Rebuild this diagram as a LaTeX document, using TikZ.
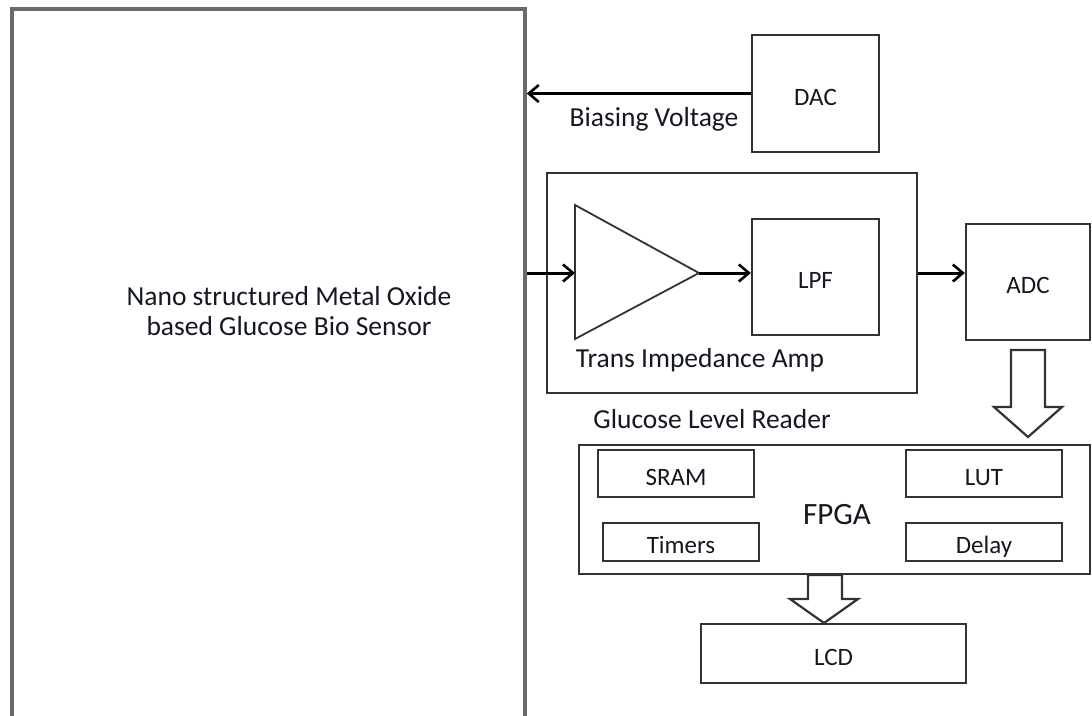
\documentclass[tikz,border=0pt]{standalone}
\usepackage{fontspec}
\setmainfont{Carlito}
\usetikzlibrary{arrows.meta,calc}
\definecolor{boxline}{HTML}{333333}
\definecolor{bigline}{HTML}{6A6A6A}
\definecolor{txt}{HTML}{141820}
\begin{document}
\begin{tikzpicture}[x=1pt,y=-1pt,
  blk/.style={draw=boxline,line width=2.3pt,inner sep=0pt,text=txt,font=\fontsize{25}{28}\selectfont,text height=23pt,text depth=0pt},
  bigtxt/.style={text=txt,font=\fontsize{27.5}{30}\selectfont,align=center,inner sep=0pt},
  arr/.style={draw=black,line width=3pt,-{Straight Barb[length=10pt,width=17pt,line width=2.6pt]}},
  blockarrow/.style={draw=boxline,line width=2.2pt,fill=white,line join=miter}]
\useasboundingbox[fill=white] (0,0) rectangle (1092,715);
% sensor
\node[draw=bigline,line width=3.5pt,minimum width=513pt,minimum height=760pt,inner sep=0pt] (sensor) at (268.5,389) {};
\node[bigtxt] (sensortxt) at (289,311) {Nano structured Metal Oxide\\based Glucose Bio Sensor};
% DAC
\node[blk,minimum width=127pt,minimum height=117pt] (dac) at (815.5,93.5) {DAC};
\node[bigtxt] (bias) at (654,119) {Biasing Voltage};
% glucose level reader
\node[blk,minimum width=370pt,minimum height=220pt] (tia) at (732,283) {};
\coordinate (ampin) at (575,273);
\coordinate (ampout) at (699,273);
\draw[draw=boxline,line width=1.8pt,line join=miter] (575,205) -- (ampout) -- (575,339) -- cycle;
\node[blk,minimum width=127pt,minimum height=116pt] (lpf) at (815.5,277) {LPF};
\node[bigtxt] (tialbl) at (700,360) {Trans Impedance Amp};
\node[bigtxt] (glr) at (712,419) {Glucose Level Reader};
% ADC
\node[blk,minimum width=124pt,minimum height=116pt] (adc) at (1028,282) {ADC};
% FPGA
\node[blk,minimum width=511pt,minimum height=129pt] (fpga) at (834.5,509.5) {};
\node[text=txt,font=\fontsize{31}{34}\selectfont,inner sep=0pt] (fpgalbl) at (837,515) {FPGA};
\node[blk,minimum width=156pt,minimum height=47pt] (sram) at (676,473.5) {SRAM};
\node[blk,minimum width=156pt,minimum height=47pt] (lut) at (984,473.5) {LUT};
\node[blk,minimum width=156pt,minimum height=38pt] (timers) at (681,542) {Timers};
\node[blk,minimum width=156pt,minimum height=38pt] (delay) at (984,542) {Delay};
% LCD
\node[blk,minimum width=265pt,minimum height=59pt] (lcd) at (833.5,653.5) {LCD};
% connectors
\draw[arr] (dac.west) -- (dac.west -| sensor.east);
\draw[arr] (ampin -| sensor.east) -- (ampin);
\draw[arr] (ampout) -- (lpf.west |- ampout);
\draw[arr] (ampout -| tia.east) -- (ampout -| adc.west);
% block arrows
\draw[blockarrow] (1011,350) -- (1045,350) -- (1045,407) -- (1062,407) -- (1028,437) -- (994,407) -- (1011,407) -- cycle;
\draw[blockarrow] (808,575) -- (842,575) -- (842,599) -- (858,599) -- (824,623) -- (790,599) -- (808,599) -- cycle;
\end{tikzpicture}
\end{document}
